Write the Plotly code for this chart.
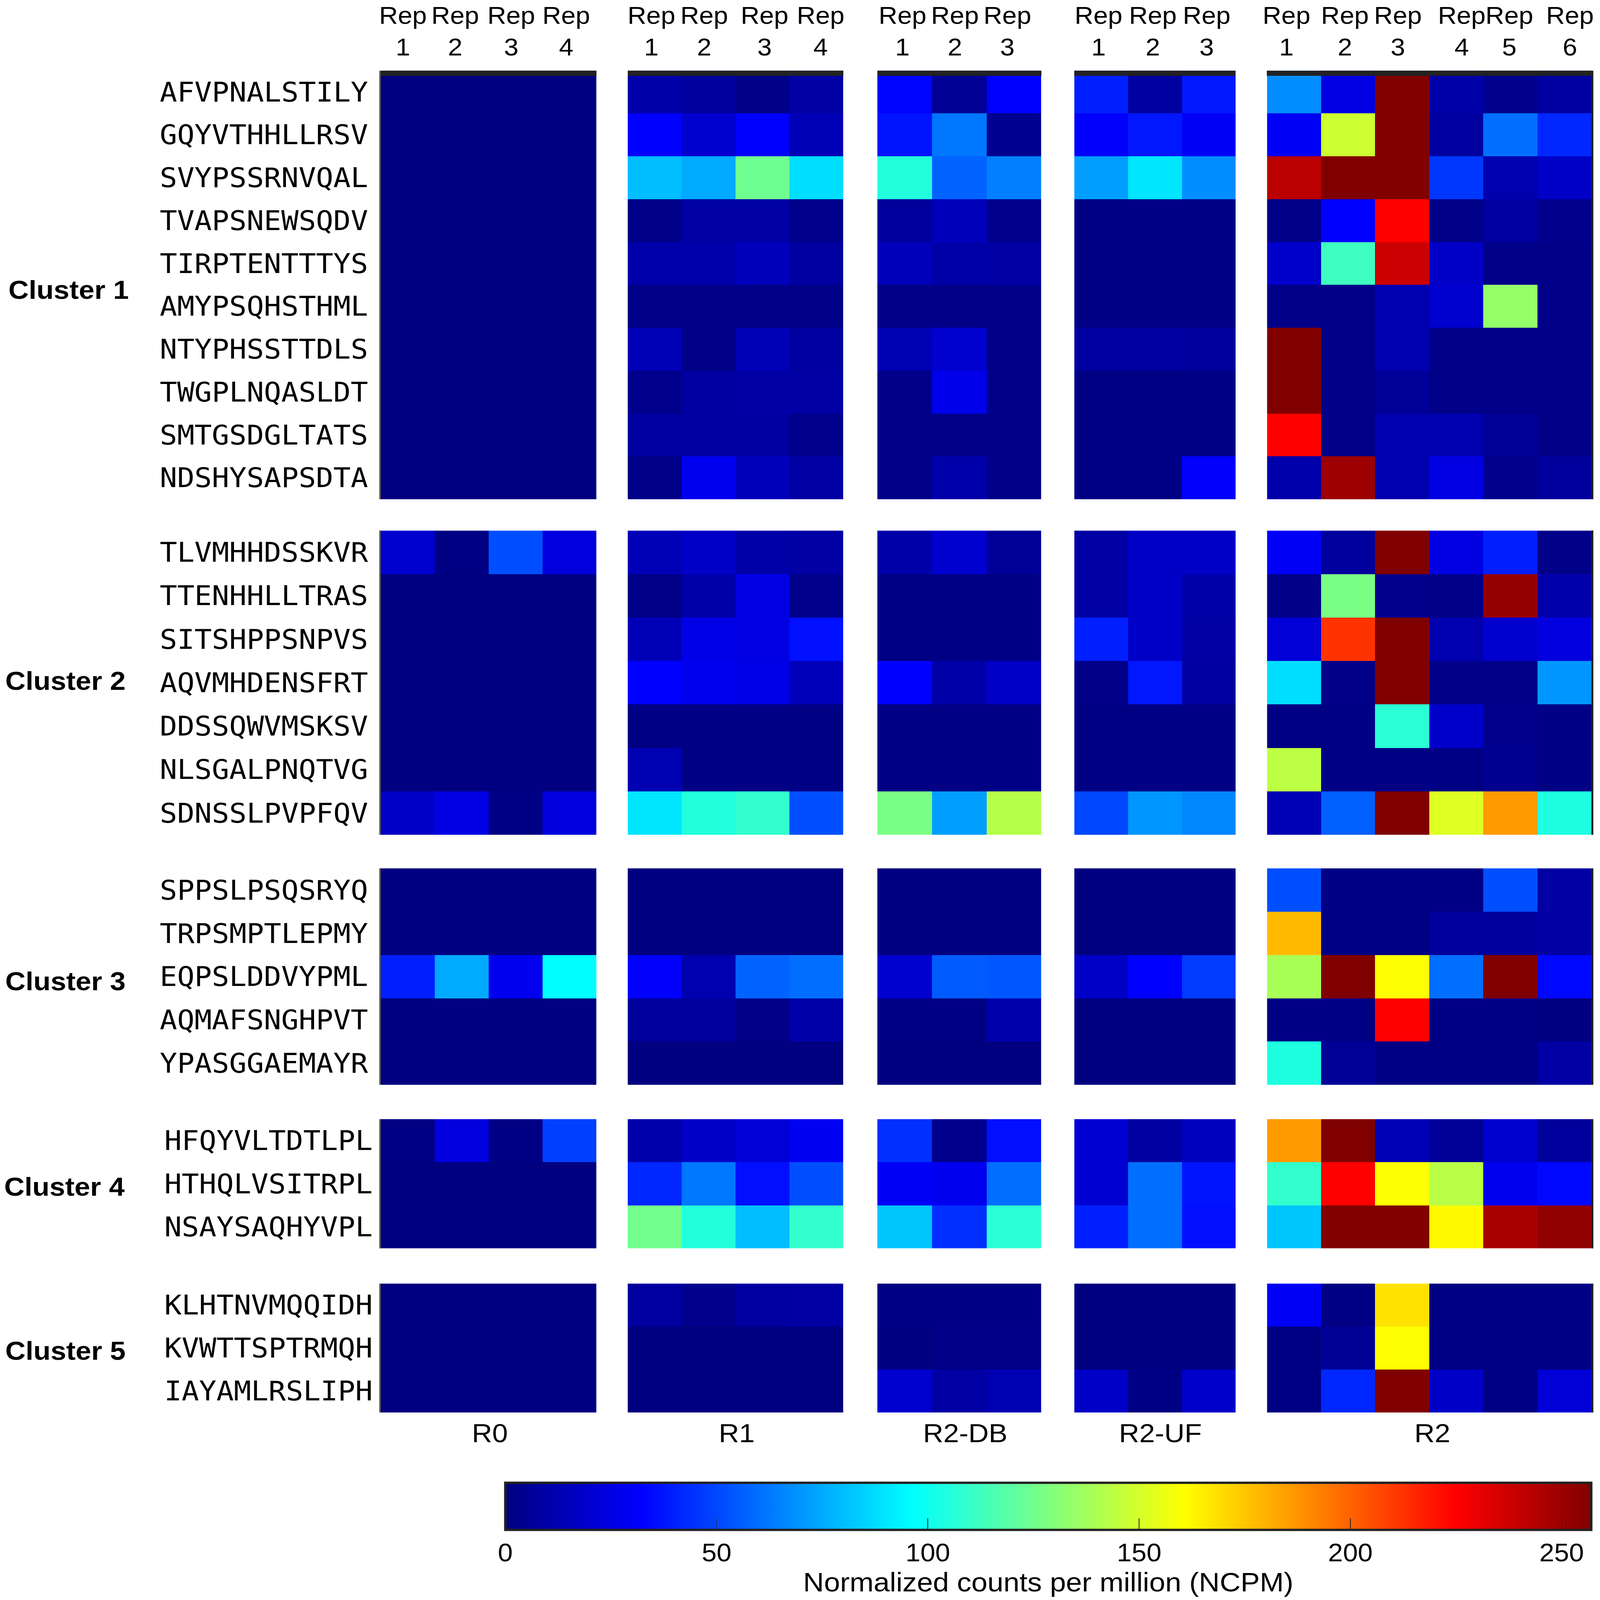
import plotly.graph_objects as go

# ---------- labels ----------
peptides_c1 = ["AFVPNALSTILY","GQYVTHHLLRSV","SVYPSSRNVQAL","TVAPSNEWSQDV","TIRPTENTTTYS","AMYPSQHSTHML","NTYPHSSTTDLS","TWGPLNQASLDT","SMTGSDGLTATS","NDSHYSAPSDTA"]
peptides_c2 = ["TLVMHHDSSKVR","TTENHHLLTRAS","SITSHPPSNPVS","AQVMHDENSFRT","DDSSQWVMSKSV","NLSGALPNQTVG","SDNSSLPVPFQV"]
peptides_c3 = ["SPPSLPSQSRYQ","TRPSMPTLEPMY","EQPSLDDVYPML","AQMAFSNGHPVT","YPASGGAEMAYR"]
peptides_c4 = ["HFQYVLTDTLPL","HTHQLVSITRPL","NSAYSAQHYVPL"]
peptides_c5 = ["KLHTNVMQQIDH","KVWTTSPTRMQH","IAYAMLRSLIPH"]
cluster_names = ["Cluster 1","Cluster 2","Cluster 3","Cluster 4","Cluster 5"]
panel_names = ["R0","R1","R2-DB","R2-UF","R2"]
rep_counts = [4,4,3,3,6]
colorbar_ticks = [0,50,100,150,200,250]
colorbar_title = "Normalized counts per million (NCPM)"

# ---------- values (NCPM), rows = peptides, columns = replicates ----------
c1_r0 = [[0,0,0,0]]*10
c1_r1 = [[10,7,2,9],[32,20,32,14],[80,75,124,88],[2,9,9,3],[11,11,15,8],[2,2,2,2],[14,2,14,8],[3,8,9,9],[8,8,8,3],[2,28,15,9]]
c1_db = [[33,5,32],[37,62,4],[105,57,64],[7,15,3],[15,10,9],[2,2,2],[13,20,2],[2,27,2],[2,2,2],[2,11,2]]
c1_uf = [[40,8,38],[31,38,30],[72,90,68],[1,1,1],[1,1,1],[1,1,1],[8,8,7],[1,1,1],[1,1,1],[1,1,31]]
c1_r2 = [[68,25,257,10,3,8],[30,148,257,8,60,42],[242,257,257,46,12,18],[2,32,225,2,8,3],[19,112,238,18,2,2],[2,2,12,20,134,2],[257,2,12,2,2,2],[257,2,6,2,2,2],[225,2,12,12,6,2],[11,250,12,25,3,7]]

c2_r0 = [[20,1,52,24],[0,0,0,0],[0,0,0,0],[0,0,0,0],[0,0,0,0],[0,0,0,0],[18,25,1,24]]
c2_r1 = [[14,18,10,9],[2,10,25,3],[14,26,25,36],[32,28,26,15],[1,1,1,1],[13,1,1,1],[90,105,109,52]]
c2_db = [[10,20,6],[1,1,1],[1,1,1],[32,10,18],[1,1,1],[1,1,1],[127,72,142]]
c2_uf = [[9,18,18],[9,18,10],[40,18,9],[2,38,8],[1,1,1],[1,1,1],[50,70,66]]
c2_r2 = [[30,7,257,25,40,2],[2,127,3,2,252,11],[22,212,257,12,20,24],[88,2,257,2,2,70],[1,1,107,19,3,1],[144,1,1,1,4,1],[14,56,257,152,186,104]]

c3_r0 = [[0,0,0,0],[0,0,0,0],[40,75,28,96],[0,0,0,0],[0,0,0,0]]
c3_r1 = [[0,0,0,0],[0,0,0,0],[31,12,57,60],[7,7,2,10],[0,0,0,0]]
c3_db = [[0,0,0],[0,0,0],[20,55,54],[1,1,11],[0,0,0]]
c3_uf = [[0,0,0],[0,0,0],[18,32,47],[0,0,0],[0,0,0]]
c3_r2 = [[52,1,1,1,52,9],[178,1,1,7,7,9],[139,257,160,60,257,34],[1,1,225,1,1,0],[104,6,1,1,1,9]]

c4_r0 = [[1,24,1,48],[0,0,0,0],[0,0,0,0]]
c4_r1 = [[11,18,22,29],[42,62,36,52],[125,105,80,109]]
c4_db = [[44,3,36],[30,28,60],[82,44,107]]
c4_uf = [[21,8,16],[21,60,37],[40,60,36]]
c4_r2 = [[186,257,14,6,20,7],[109,225,160,143,28,34],[82,257,257,162,247,253]]

c5_r0 = [[0,0,0,0],[0,0,0,0],[0,0,0,0]]
c5_r1 = [[8,3,8,9],[0,0,0,0],[0,0,0,0]]
c5_db = [[1,1,1],[0,2,2],[20,9,13]]
c5_uf = [[0,0,0],[0,0,0],[18,1,19]]
c5_r2 = [[30,1,168,1,1,1],[1,5,160,1,1,1],[1,42,257,18,1,22]]

clusters = [
    (peptides_c1,[c1_r0,c1_r1,c1_db,c1_uf,c1_r2]),
    (peptides_c2,[c2_r0,c2_r1,c2_db,c2_uf,c2_r2]),
    (peptides_c3,[c3_r0,c3_r1,c3_db,c3_uf,c3_r2]),
    (peptides_c4,[c4_r0,c4_r1,c4_db,c4_uf,c4_r2]),
    (peptides_c5,[c5_r0,c5_r1,c5_db,c5_uf,c5_r2]),
]

# ---------- layout geometry (page pixels) ----------
W, H = 4550, 4855
panel_x = [(1083,1696),(1785,2398),(2495,2961),(3055,3514),(3603,4526)]
cluster_y = [(214,1515),(1610,2533),(2635,3292),(3396,3788),(3895,4286)]
top_bar_y = 222
label_standoff = [16,16,16,3,3]
cluster_label_pos = [(195,880),(186,2065),(186,2977),(183,3600),(186,4098)]
panel_label_x = [1393,2095,2745,3300,4073]
panel_label_y = 4348
rep_label_shift = [[-.09,-.12,-.08,-.06],[-.06,-.08,.04,.08],[-.04,-.08,-.12],[-.05,-.04,-.04],[-.14,-.06,-.08,.1,-.02,.1]]

SANS = "Liberation Sans"
MONO = "DejaVu Sans Mono"
jet = [[0,"rgb(0,0,128)"],[0.125,"rgb(0,0,255)"],[0.375,"rgb(0,255,255)"],
       [0.625,"rgb(255,255,0)"],[0.875,"rgb(255,0,0)"],[1,"rgb(128,0,0)"]]

def px(x): return x/W
def py(y): return 1-y/H

fig = go.Figure()
layout = {}
n = 0
for ci,(peps,panels) in enumerate(clusters):
    y0,y1 = cluster_y[ci]
    for pi,z in enumerate(panels):
        n += 1
        sx = "" if n==1 else str(n)
        reps = list(range(1,rep_counts[pi]+1))
        fig.add_trace(go.Heatmap(z=z,x=reps,y=peps,coloraxis="coloraxis",
                                 xaxis="x"+sx,yaxis="y"+sx,xgap=0,ygap=0))
        x0,x1 = panel_x[pi]
        xa = dict(domain=[px(x0),px(x1)],range=[0.5,rep_counts[pi]+0.5],
                  showgrid=False,zeroline=False,ticks="",fixedrange=True,
                  tickvals=[r+s for r,s in zip(reps,rep_label_shift[pi])],
                  ticktext=["Rep<br>%d"%r for r in reps],tickangle=0,
                  tickfont=dict(family=SANS,size=74,color="black"))
        if ci==0:
            xa.update(anchor="free",position=py(top_bar_y),side="top",showticklabels=True,
                      showline=True,linecolor="#222222",linewidth=16,ticklabelstandoff=16)
        else:
            xa.update(anchor="y"+sx,showticklabels=False,showline=False)
        ya = dict(domain=[py(y1),py(y0)],anchor="x"+sx,autorange="reversed",type="category",
                  showgrid=False,zeroline=False,ticks="",fixedrange=True,showticklabels=False)
        if pi==0:
            ya.update(showticklabels=True,tickfont=dict(family=MONO,size=82,color="black"),
                      ticklabelstandoff=label_standoff[ci],showline=True,linecolor="#555555",linewidth=4)
        elif pi==4:
            ya.update(side="right",showline=True,linecolor="#222222",linewidth=5)
        layout["xaxis"+sx] = xa
        layout["yaxis"+sx] = ya

annotations = []
for name,(x,y) in zip(cluster_names,cluster_label_pos):
    annotations.append(dict(text="<b>%s</b>"%name,x=px(x),y=py(y),xref="paper",yref="paper",showarrow=False,
                            xanchor="center",yanchor="middle",font=dict(family=SANS,size=80,color="black")))
for name,x in zip(panel_names,panel_label_x):
    annotations.append(dict(text=name,x=px(x),y=py(panel_label_y),xref="paper",yref="paper",showarrow=False,
                            xanchor="center",yanchor="middle",font=dict(family=SANS,size=80,color="black")))

fig.update_layout(
    width=W,height=H,margin=dict(l=0,r=0,t=0,b=0,autoexpand=False),
    paper_bgcolor="white",plot_bgcolor="white",showlegend=False,annotations=annotations,
    coloraxis=dict(colorscale=jet,cmin=0,cmax=257,colorbar=dict(
        orientation="h",x=px(1437),xanchor="left",y=py(4850),yanchor="bottom",
        len=3088,lenmode="pixels",thickness=143,thicknessmode="pixels",xpad=0,ypad=0,
        outlinecolor="#222222",outlinewidth=7,ticks="inside",ticklen=38,tickwidth=2,tickcolor="#222222",
        tickvals=colorbar_ticks,ticktext=[str(t) for t in colorbar_ticks],
        tickfont=dict(family=SANS,size=76,color="black"),
        title=dict(text=colorbar_title,side="bottom",font=dict(family=SANS,size=82,color="black")),
    )),
    **layout)

# The page is fitted to the browser window, so the whole 4550x4855 figure stays in view.
fit_js = """
document.documentElement.style.overflow='hidden';
document.body.style.margin='0';
document.body.style.overflow='hidden';
var gd=document.querySelector('.plotly-graph-div');
gd.style.transformOrigin='0 0';
gd.style.transform='scale('+(window.innerWidth/%d)+','+(window.innerHeight/%d)+')';
""" % (W,H)
fig.write_html("out.html",post_script=fit_js,config={"displayModeBar":False})
